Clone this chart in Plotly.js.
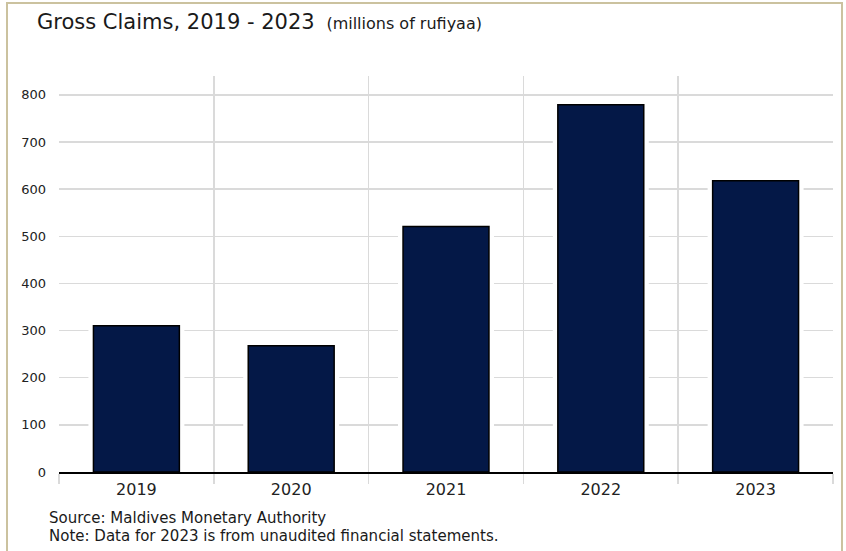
<!DOCTYPE html>
<html>
<head>
<meta charset="utf-8">
<script src="https://cdn.plot.ly/plotly-3.0.1.min.js"></script>
<style>
  html, body { margin: 0; padding: 0; background: #fff; overflow: hidden; }
  #chart { width: 846px; height: 551px; }
  #frame { position: absolute; left: 6px; top: 2px; width: 837px; height: 600px;
           border: 2px solid #cbc29f; pointer-events: none; box-sizing: border-box; }
</style>
</head>
<body>
<div id="chart"></div>
<div id="frame"></div>
<script>
const years = ["2019", "2020", "2021", "2022", "2023"];
const grossClaims = [310, 268, 521, 779, 618];
const yTicks = [0, 100, 200, 300, 400, 500, 600, 700, 800];
const sourceText = "Source: Maldives Monetary Authority";
const noteText = "Note: Data for 2023 is from unaudited financial statements.";

const font = "DejaVu Sans, Open Sans, sans-serif";

const halo = {
  type: "bar", x: years, y: grossClaims, width: 0.62,
  marker: { color: "#ffffff", line: { width: 0 } },
  hoverinfo: "skip", showlegend: false
};
const bars = {
  type: "bar", x: years, y: grossClaims, width: 0.555,
  marker: { color: "#041847", line: { color: "#000000", width: 1.5 } },
  showlegend: false
};

const layout = {
  width: 846, height: 551,
  margin: { l: 59, r: 13, t: 76, b: 79 },
  paper_bgcolor: "#ffffff", plot_bgcolor: "#ffffff",
  barmode: "overlay",
  font: { family: font, color: "#222222" },
  title: {
    text: "Gross Claims, 2019 - 2023 <span style='font-size:16px'> (millions of rufiyaa)</span>",
    font: { family: font, size: 21, color: "#1a1a1a" },
    xref: "container", yref: "container",
    x: 37 / 846, xanchor: "left",
    y: 1 - 22 / 551, yanchor: "middle"
  },
  xaxis: {
    type: "category",
    tickson: "boundaries",
    showgrid: true, gridcolor: "#dadada", gridwidth: 1.5,
    ticks: "outside", ticklen: 10, tickcolor: "#dadada", tickwidth: 1.5,
    showline: true, linecolor: "#000000", linewidth: 1.5,
    ticklabelstandoff: 2,
    tickfont: { family: font, size: 16, color: "#222222" },
    range: [-0.5, 4.5], fixedrange: true
  },
  yaxis: {
    range: [0, 840],
    tickvals: yTicks,
    showgrid: true, gridcolor: "#dadada", gridwidth: 1.5,
    zeroline: false, showline: false, ticks: "",
    ticklabelstandoff: 12,
    tickfont: { family: font, size: 13, color: "#222222" },
    fixedrange: true
  },
  annotations: [
    {
      xref: "paper", yref: "paper", x: 0, y: 0,
      xanchor: "left", yanchor: "middle", align: "left",
      xshift: -12, yshift: -46, showarrow: false,
      text: sourceText,
      font: { family: font, size: 15, color: "#1a1a1a" }
    },
    {
      xref: "paper", yref: "paper", x: 0, y: 0,
      xanchor: "left", yanchor: "middle", align: "left",
      xshift: -12, yshift: -64, showarrow: false,
      text: noteText,
      font: { family: font, size: 15, color: "#1a1a1a" }
    }
  ]
};

Plotly.newPlot("chart", [halo, bars], layout, { displayModeBar: false, staticPlot: true });
</script>
</body>
</html>
